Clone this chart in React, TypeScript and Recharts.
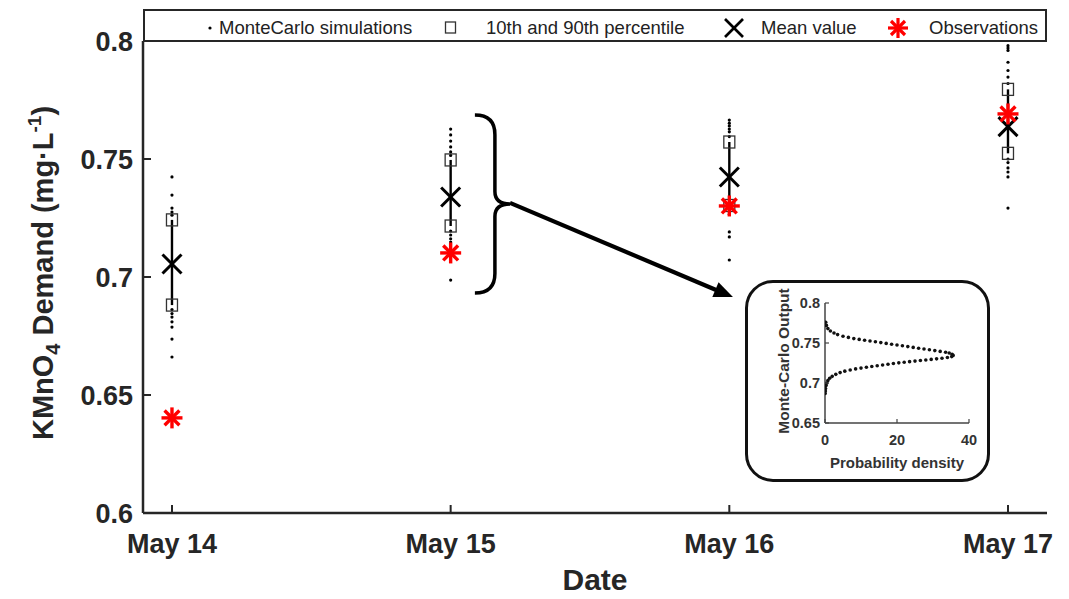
import React from "react";
import {
  ScatterChart,
  Scatter,
  XAxis,
  YAxis,
  ErrorBar,
  ReferenceArea,
  ReferenceLine,
  Label,
} from "recharts";

// ---------------- data ----------------
const dates = ["May 14", "May 15", "May 16", "May 17"];
const datePositions = [1, 2, 3, 4];
const meanValues = [0.7055, 0.7339, 0.7424, 0.7637];
const p10Values = [0.6881, 0.7216, 0.7303, 0.7524];
const p90Values = [0.7242, 0.7496, 0.7572, 0.7795];
const observedValues = [0.6403, 0.7102, 0.7301, 0.7691];
const mcMay14 = [0.7424, 0.7347, 0.7292, 0.7275, 0.7262, 0.6862, 0.6845, 0.683, 0.681, 0.6788, 0.6737, 0.6661];
const mcMay15 = [0.7627, 0.7602, 0.7576, 0.7551, 0.753, 0.7515, 0.7195, 0.7178, 0.7162, 0.7148, 0.6987];
const mcMay16 = [0.7665, 0.7652, 0.764, 0.7627, 0.7615, 0.7595, 0.7285, 0.7265, 0.7191, 0.717, 0.7072];
const mcMay17 = [0.798, 0.797, 0.796, 0.791, 0.7875, 0.7847, 0.782, 0.75, 0.7485, 0.7462, 0.7445, 0.7424, 0.7292];
const yTicks = [0.6, 0.65, 0.7, 0.75, 0.8];
const xDomain = [0.896, 4.14];

// inset: probability density of Monte-Carlo output (May 15)
const insetDensity = [
  0.2, 0.4, 0.8, 1.5, 2.5, 3.5, 5, 6.5, 8, 9.5, 11, 12.5, 14, 15.5, 17, 18.5, 20, 21.5, 23, 24.5, 26, 27.5, 29,
  30.5, 32, 33.5, 34.5, 35.3, 35.6, 35.2, 34, 32.5, 31, 29.5, 28, 26.5, 25, 23.5, 22, 20.5, 19, 17.5, 16, 14.5, 13,
  11.5, 10, 8.5, 7, 5.5, 4.2, 3, 2, 1.3, 0.8, 0.5, 0.3, 0.15, 0.1, 0.05,
];
const insetOutput = [
  0.776, 0.772, 0.768, 0.765, 0.7625, 0.7605, 0.7585, 0.757, 0.7555, 0.7545, 0.7535, 0.7525, 0.7515, 0.7505, 0.7495,
  0.7485, 0.7475, 0.7465, 0.7455, 0.7445, 0.7435, 0.7425, 0.7415, 0.7405, 0.7395, 0.7385, 0.7375, 0.736, 0.7345,
  0.733, 0.7318, 0.731, 0.7302, 0.7295, 0.7288, 0.7281, 0.7274, 0.7267, 0.726, 0.7252, 0.7244, 0.7234, 0.7225,
  0.7216, 0.7206, 0.7196, 0.7186, 0.7176, 0.7163, 0.7148, 0.713, 0.7108, 0.7083, 0.706, 0.703, 0.7, 0.697, 0.693,
  0.69, 0.687,
];
const insetXTicks = [0, 20, 40];
const insetYTicks = [0.65, 0.7, 0.75, 0.8];

// annotation anchors (data units)
const braceX = [2.087, 2.213];
const braceY = [0.6932, 0.7686];
const arrowFrom = { x: 2.213, y: 0.7314 };
const arrowTo = { x: 3.013, y: 0.6915 };

// ---------------- derived series ----------------
const mcData = [mcMay14, mcMay15, mcMay16, mcMay17].flatMap((arr, i) =>
  arr.map((v) => ({ x: datePositions[i], y: v }))
);
const meanData = datePositions.map((x, i) => ({
  x,
  y: meanValues[i],
  err: [meanValues[i] - p10Values[i], p90Values[i] - meanValues[i]],
}));
const pctData = datePositions.flatMap((x, i) => [
  { x, y: p10Values[i] },
  { x, y: p90Values[i] },
]);
const obsData = datePositions.map((x, i) => ({ x, y: observedValues[i] }));
const insetData = insetDensity.map((d, i) => ({ x: d, y: insetOutput[i] }));

// ---------------- styles ----------------
const AX = "#262626";
const FONT = "'Liberation Sans', Arial, Helvetica, sans-serif";

const fmtY = (v: number) => String(v);
const fmtDate = (v: number) => dates[datePositions.indexOf(v)] ?? "";

// ---------------- shapes ----------------
const Dot = (p: any) => <circle cx={p.cx} cy={p.cy} r={1.6} fill="#000" />;
const SquareMark = (p: any) => (
  <rect x={p.cx - 5.5} y={p.cy - 6} width={11} height={12} fill="none" stroke="#333" strokeWidth={1.3} />
);
const CrossMark = (p: any) => (
  <g stroke="#000" strokeWidth={3} strokeLinecap="butt">
    <line x1={p.cx - 9.5} y1={p.cy - 9.5} x2={p.cx + 9.5} y2={p.cy + 9.5} />
    <line x1={p.cx - 9.5} y1={p.cy + 9.5} x2={p.cx + 9.5} y2={p.cy - 9.5} />
  </g>
);
const StarMark = (p: any) => {
  const r = 10.5;
  const d = r * 0.7071;
  return (
    <g stroke="#ff0000" strokeWidth={3.4}>
      <line x1={p.cx - r} y1={p.cy} x2={p.cx + r} y2={p.cy} />
      <line x1={p.cx} y1={p.cy - r} x2={p.cx} y2={p.cy + r} />
      <line x1={p.cx - d} y1={p.cy - d} x2={p.cx + d} y2={p.cy + d} />
      <line x1={p.cx - d} y1={p.cy + d} x2={p.cx + d} y2={p.cy - d} />
    </g>
  );
};
const InsetDot = (p: any) => <circle cx={p.cx} cy={p.cy} r={1.8} fill="#111" />;

const Brace = (p: any) => {
  const { x, y, width: w, height: h } = p;
  const vx = x + w * 0.57;
  const m = y + h / 2;
  const d = `M ${x} ${y} Q ${vx} ${y} ${vx} ${y + h * 0.11} L ${vx} ${m - h * 0.07} Q ${vx} ${m} ${x + w} ${m} Q ${vx} ${m} ${vx} ${m + h * 0.07} L ${vx} ${y + h * 0.89} Q ${vx} ${y + h} ${x} ${y + h}`;
  return <path d={d} fill="none" stroke="#000" strokeWidth={3.5} />;
};

const Arrow = (p: any) => {
  const { x1, y1, x2, y2 } = p;
  if ([x1, y1, x2, y2].some((v) => typeof v !== "number")) return null;
  const dx = x2 - x1;
  const dy = y2 - y1;
  const L = Math.sqrt(dx * dx + dy * dy);
  const ux = dx / L;
  const uy = dy / L;
  const hl = 19;
  const hw = 8;
  const bx = x2 - ux * hl;
  const by = y2 - uy * hl;
  return (
    <g>
      <line x1={x1} y1={y1} x2={bx + ux * 2} y2={by + uy * 2} stroke="#000" strokeWidth={4.2} />
      <polygon
        points={`${x2},${y2} ${bx - uy * hw},${by + ux * hw} ${bx + uy * hw},${by - ux * hw}`}
        fill="#000"
      />
    </g>
  );
};

// ---------------- ticks (main) ----------------
const LeftTick = (p: any) => (
  <g>
    <line x1={p.x} x2={p.x + 8} y1={p.y} y2={p.y} stroke={AX} strokeWidth={2} />
    <text x={p.x - 10} y={p.y + 10} textAnchor="end" fontFamily={FONT} fontWeight="bold" fontSize={27} fill={AX}>
      {fmtY(p.payload.value)}
    </text>
  </g>
);
const RightTick = (p: any) => <line x1={p.x} x2={p.x - 8} y1={p.y} y2={p.y} stroke={AX} strokeWidth={2} />;
const BottomTick = (p: any) => (
  <g>
    <line x1={p.x} x2={p.x} y1={p.y} y2={p.y - 8} stroke={AX} strokeWidth={2} />
    <text x={p.x} y={p.y + 40} textAnchor="middle" fontFamily={FONT} fontWeight="bold" fontSize={27} fill={AX}>
      {fmtDate(p.payload.value)}
    </text>
  </g>
);
const TopTick = (p: any) => <line x1={p.x} x2={p.x} y1={p.y} y2={p.y + 8} stroke={AX} strokeWidth={2} />;

const DateTitle = (p: any) => {
  const vb = p.viewBox || { x: 135, y: 505, width: 904, height: 70 };
  return (
    <text x={vb.x + vb.width / 2} y={vb.y + 77} textAnchor="middle" fontFamily={FONT} fontWeight="bold" fontSize={30} fill={AX}>
      Date
    </text>
  );
};
const DemandTitle = (p: any) => {
  const vb = p.viewBox || { x: 75, y: 33, width: 60, height: 472 };
  const cx = vb.x - 40;
  const cy = vb.y + vb.height / 2 - 4;
  return (
    <text
      transform={`translate(${cx},${cy}) rotate(-90)`}
      x={0}
      y={10}
      textAnchor="middle"
      fontFamily={FONT}
      fontWeight="bold"
      fontSize={29}
      fill={AX}
    >
      KMnO
      <tspan dy={7} fontSize={20}>4</tspan>
      <tspan dy={-7}> Demand (mg·L</tspan>
      <tspan dy={-12} fontSize={19}>-1</tspan>
      <tspan dy={12}>)</tspan>
    </text>
  );
};

// ---------------- ticks (inset) ----------------
const InLeftTick = (p: any) => (
  <g>
    <line x1={p.x} x2={p.x + 4} y1={p.y} y2={p.y} stroke="#444" strokeWidth={1.2} />
    <text x={p.x - 5} y={p.y + 5} textAnchor="end" fontFamily={FONT} fontWeight="bold" fontSize={14.5} fill="#333">
      {String(p.payload.value)}
    </text>
  </g>
);
const InRightTick = (p: any) => <line x1={p.x} x2={p.x - 4} y1={p.y} y2={p.y} stroke="#444" strokeWidth={1.2} />;
const InBottomTick = (p: any) => (
  <g>
    <line x1={p.x} x2={p.x} y1={p.y} y2={p.y - 4} stroke="#444" strokeWidth={1.2} />
    <text x={p.x} y={p.y + 22} textAnchor="middle" fontFamily={FONT} fontWeight="bold" fontSize={14.5} fill="#333">
      {String(p.payload.value)}
    </text>
  </g>
);
const InTopTick = (p: any) => <line x1={p.x} x2={p.x} y1={p.y} y2={p.y + 4} stroke="#444" strokeWidth={1.2} />;
const InXTitle = (p: any) => {
  const vb = p.viewBox || { x: 77, y: 140, width: 144, height: 40 };
  return (
    <text x={vb.x + vb.width / 2} y={vb.y + 45} textAnchor="middle" fontFamily={FONT} fontWeight="bold" fontSize={15} fill="#333">
      Probability density
    </text>
  );
};
const InYTitle = (p: any) => {
  const vb = p.viewBox || { x: 27, y: 20, width: 50, height: 120 };
  const cx = vb.x + 8;
  const cy = vb.y + vb.height / 2 - 2;
  return (
    <text
      transform={`translate(${cx},${cy}) rotate(-90)`}
      x={0}
      y={5.5}
      textAnchor="middle"
      fontFamily={FONT}
      fontWeight="bold"
      fontSize={15.5}
      fill="#333"
    >
      Monte-Carlo Output
    </text>
  );
};

// ---------------- legend ----------------
const legendItem = (left: number, child: React.ReactNode) => (
  <div style={{ position: "absolute", left, top: 0, height: 33, display: "flex", alignItems: "center" }}>{child}</div>
);
const legendText: React.CSSProperties = { fontFamily: FONT, fontSize: 18.5, color: "#222", whiteSpace: "nowrap" };

const LegendBox = () => (
  <div
    style={{
      position: "absolute",
      left: 135,
      top: 1,
      width: 904,
      height: 33,
      boxSizing: "border-box",
      border: `2.5px solid ${AX}`,
      background: "#fff",
    }}
  >
    {legendItem(
      61,
      <svg width={8} height={8}>
        <circle cx={4} cy={4} r={1.6} fill="#000" />
      </svg>
    )}
    {legendItem(74, <span style={legendText}>MonteCarlo simulations</span>)}
    {legendItem(
      299,
      <svg width={14} height={14}>
        <rect x={1.5} y={1} width={10} height={11} fill="none" stroke="#333" strokeWidth={1.3} />
      </svg>
    )}
    {legendItem(341, <span style={legendText}>10th and 90th percentile</span>)}
    {legendItem(
      578,
      <svg width={22} height={22}>
        <g stroke="#000" strokeWidth={2.6}>
          <line x1={2} y1={2} x2={20} y2={20} />
          <line x1={2} y1={20} x2={20} y2={2} />
        </g>
      </svg>
    )}
    {legendItem(616, <span style={legendText}>Mean value</span>)}
    {legendItem(
      742,
      <svg width={22} height={22}>
        <g stroke="#ff0000" strokeWidth={3.2}>
          <line x1={1} y1={11} x2={21} y2={11} />
          <line x1={11} y1={1} x2={11} y2={21} />
          <line x1={4} y1={4} x2={18} y2={18} />
          <line x1={4} y1={18} x2={18} y2={4} />
        </g>
      </svg>
    )}
    {legendItem(784, <span style={legendText}>Observations</span>)}
  </div>
);

// ---------------- inset ----------------
const Inset = () => (
  <div
    style={{
      position: "absolute",
      left: 737,
      top: 272,
      width: 245,
      height: 202,
      boxSizing: "border-box",
      border: "3px solid #111",
      borderRadius: 28,
      background: "#fff",
    }}
  >
    <ScatterChart width={239} height={196} margin={{ top: 20, right: 18, bottom: 16, left: 27 }}>
      <XAxis
        dataKey="x"
        type="number"
        domain={[0, 40]}
        ticks={insetXTicks}
        allowDataOverflow
        height={40}
        tickSize={0}
        tickMargin={0}
        tickLine={false}
        axisLine={{ stroke: "#444", strokeWidth: 1.5 }}
        tick={InBottomTick}
        label={<Label content={InXTitle} />}
      />
      <XAxis
        xAxisId="top"
        orientation="top"
        type="number"
        domain={[0, 40]}
        ticks={insetXTicks}
        allowDataOverflow
        height={0}
        tickSize={0}
        tickMargin={0}
        tickLine={false}
        axisLine={{ stroke: "#444", strokeWidth: 1.5 }}
        tick={InTopTick}
      />
      <YAxis
        dataKey="y"
        type="number"
        domain={[0.65, 0.8]}
        ticks={insetYTicks}
        allowDataOverflow
        width={50}
        tickSize={0}
        tickMargin={0}
        tickLine={false}
        axisLine={{ stroke: "#444", strokeWidth: 1.5 }}
        tick={InLeftTick}
        label={<Label content={InYTitle} />}
      />
      <YAxis
        yAxisId="right"
        orientation="right"
        type="number"
        domain={[0.65, 0.8]}
        ticks={insetYTicks}
        allowDataOverflow
        width={0}
        tickSize={0}
        tickMargin={0}
        tickLine={false}
        axisLine={{ stroke: "#444", strokeWidth: 1.5 }}
        tick={InRightTick}
      />
      <Scatter data={insetData} shape={InsetDot} isAnimationActive={false} />
    </ScatterChart>
  </div>
);

// ---------------- main ----------------
export default function App() {
  return (
    <div style={{ position: "relative", width: 1053, height: 591, background: "#fff" }}>
      <ScatterChart width={1053} height={591} margin={{ top: 33, right: 14, bottom: 16, left: 75 }}>
        <XAxis
          dataKey="x"
          type="number"
          domain={xDomain}
          ticks={datePositions}
          allowDataOverflow
          height={70}
          tickSize={0}
          tickMargin={0}
          tickLine={false}
          axisLine={{ stroke: AX, strokeWidth: 2.5 }}
          tick={BottomTick}
          label={<Label content={DateTitle} />}
        />
        <XAxis
          xAxisId="top"
          orientation="top"
          type="number"
          domain={xDomain}
          ticks={datePositions}
          allowDataOverflow
          height={0}
          tickSize={0}
          tickMargin={0}
          tickLine={false}
          axisLine={{ stroke: AX, strokeWidth: 2.5 }}
          tick={TopTick}
        />
        <YAxis
          dataKey="y"
          type="number"
          domain={[0.6, 0.8]}
          ticks={yTicks}
          allowDataOverflow
          width={60}
          tickSize={0}
          tickMargin={0}
          tickLine={false}
          axisLine={{ stroke: AX, strokeWidth: 2.5 }}
          tick={LeftTick}
          label={<Label content={DemandTitle} />}
        />
        <YAxis
          yAxisId="right"
          orientation="right"
          type="number"
          domain={[0.6, 0.8]}
          ticks={yTicks}
          allowDataOverflow
          width={0}
          tickSize={0}
          tickMargin={0}
          tickLine={false}
          axisLine={{ stroke: AX, strokeWidth: 2.5 }}
          tick={RightTick}
        />
        <Scatter name="MonteCarlo simulations" data={mcData} shape={Dot} isAnimationActive={false} />
        <Scatter name="Mean value" data={meanData} shape={CrossMark} isAnimationActive={false}>
          <ErrorBar dataKey="err" direction="y" width={0} stroke="#000" strokeWidth={2.4} isAnimationActive={false} />
        </Scatter>
        <Scatter name="10th and 90th percentile" data={pctData} shape={SquareMark} isAnimationActive={false} />
        <Scatter name="Observations" data={obsData} shape={StarMark} isAnimationActive={false} />
        <ReferenceArea x1={braceX[0]} x2={braceX[1]} y1={braceY[0]} y2={braceY[1]} shape={Brace} />
        <ReferenceLine
          segment={[
            { x: arrowFrom.x, y: arrowFrom.y },
            { x: arrowTo.x, y: arrowTo.y },
          ]}
          shape={Arrow}
        />
      </ScatterChart>
      <LegendBox />
      <Inset />
    </div>
  );
}
